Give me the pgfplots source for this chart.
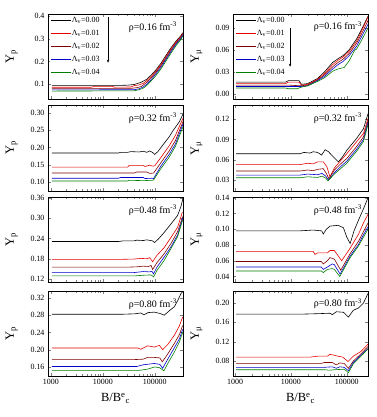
\documentclass[border=0pt]{standalone}
\usepackage{pgfplots}
\pgfplotsset{compat=1.18}
\usepackage{fontspec}
\setmainfont{Liberation Serif}
\usetikzlibrary{arrows.meta}
\definecolor{myred}{RGB}{230,0,0}
\definecolor{mydred}{RGB}{128,0,0}
\definecolor{myblue}{RGB}{0,0,205}
\definecolor{mygreen}{RGB}{0,128,0}
\pgfplotsset{
  scale only axis, width=135bp,
  tick label style={font=\fontsize{8}{8}\selectfont},
  every axis y label/.style={at={(axis description cs:-0.27,0.5)}, rotate=90, anchor=center, font=\fontsize{12.5}{12.5}\selectfont},
  every axis x label/.style={at={(axis description cs:0.5,-0.26)}, anchor=center, font=\fontsize{12.5}{12.5}\selectfont},
  yticklabel style={/pgf/number format/fixed, /pgf/number format/fixed zerofill, /pgf/number format/precision=2},
  major tick length=3bp, minor tick length=1.6bp,
  every axis plot/.append style={line width=0.6pt},
  cycle list={{black},{myred},{mydred},{myblue},{mygreen}},
  axis line style={line width=0.6pt},
}
\pgfkeys{/pgf/number format/1000 sep={}, /pgf/number format/assume math mode=true}
\tikzset{rholab/.style={font=\fontsize{10}{10}\selectfont, anchor=north east}}
\newcommand{\rholabel}[1]{ρ=#1 fm\textsuperscript{-3}}
\begin{document}
\begin{tikzpicture}
\path[use as bounding box] (0,0) rectangle (377bp,417bp);
% ---------- row 1 ----------
\begin{axis}[xmode=log, xtick={1000,10000,100000}, xmin=880, xmax=3.5e5, xticklabels={}, at={(48bp,318bp)}, anchor=south west, height=85bp,
  ymin=0.035, ymax=0.41, ytick={0.1,0.2,0.3,0.4},
  yticklabel style={/pgf/number format/precision=1},
  ylabel={Y\textsubscript{p}},
  legend style={at={(0.01,0.985)}, anchor=north west, draw=none, fill=white,
    font=\fontsize{8}{8}\selectfont, row sep=4.6bp, inner sep=1bp, nodes={inner sep=0.8bp}},
  legend cell align=left,
  legend image code/.code={\draw[#1] (0bp,0bp) -- (20bp,0bp);}]
\addplot coordinates {(1050,0.095)(20000,0.095)(30000,0.096)(40000,0.099)(54000,0.108)(70000,0.122)(85000,0.140)(105000,0.163)(132000,0.193)(165000,0.228)(204000,0.260)(260000,0.292)(318000,0.314)(345000,0.327)};
\addplot coordinates {(1050,0.087)(6000,0.087)(7000,0.091)(15000,0.091)(17000,0.087)(35000,0.088)(40000,0.094)(50000,0.097)(60000,0.104)(70000,0.116)(85000,0.134)(105000,0.158)(132000,0.188)(165000,0.222)(204000,0.255)(260000,0.288)(318000,0.310)(345000,0.324)};
\addplot coordinates {(1050,0.082)(35000,0.082)(45000,0.085)(55000,0.090)(70000,0.108)(85000,0.128)(105000,0.152)(132000,0.182)(165000,0.216)(204000,0.249)(260000,0.283)(318000,0.306)(345000,0.320)};
\addplot coordinates {(1050,0.075)(40000,0.076)(50000,0.080)(60000,0.088)(70000,0.100)(85000,0.120)(105000,0.145)(132000,0.175)(165000,0.210)(204000,0.243)(260000,0.278)(318000,0.302)(345000,0.316)};
\addplot coordinates {(1050,0.070)(40000,0.071)(50000,0.076)(60000,0.083)(70000,0.094)(85000,0.114)(105000,0.138)(132000,0.168)(165000,0.203)(204000,0.236)(260000,0.272)(318000,0.297)(345000,0.312)};
\legend{Λ\textsubscript{v}=0.00,Λ\textsubscript{v}=0.01,Λ\textsubscript{v}=0.02,Λ\textsubscript{v}=0.03,Λ\textsubscript{v}=0.04}
\draw[-{Stealth[length=3bp,width=2.5bp]}, line width=0.5pt] (axis cs:12600,0.395) -- (axis cs:12600,0.195);
\node[rholab] at (rel axis cs:0.98,0.95) {\rholabel{0.16}};
\end{axis}
\begin{axis}[xmode=log, xtick={1000,10000,100000}, xmin=920, xmax=2.4e5, xticklabels={}, at={(233bp,318bp)}, anchor=south west, height=85bp,
  ymin=-0.007, ymax=0.109, ytick={0,0.03,0.06,0.09},
  ylabel={Y\textsubscript{μ}},
  legend style={at={(0.01,0.985)}, anchor=north west, draw=none, fill=white,
    font=\fontsize{8}{8}\selectfont, row sep=4.6bp, inner sep=1bp, nodes={inner sep=0.8bp}},
  legend cell align=left,
  legend image code/.code={\draw[#1] (0bp,0bp) -- (20bp,0bp);}]
\addplot coordinates {(1050,0.016)(8000,0.016)(9000,0.018)(14000,0.018)(15500,0.013)(20000,0.014)(30000,0.021)(40000,0.030)(56000,0.043)(70000,0.048)(85000,0.052)(110000,0.060)(150000,0.075)(190000,0.090)(240000,0.106)};
\addplot coordinates {(1050,0.014)(8000,0.014)(9000,0.016)(14000,0.016)(15500,0.012)(20000,0.013)(30000,0.020)(40000,0.028)(56000,0.040)(70000,0.046)(85000,0.050)(110000,0.058)(150000,0.072)(190000,0.088)(240000,0.105)};
\addplot coordinates {(1050,0.012)(9000,0.012)(15000,0.011)(20000,0.012)(30000,0.019)(40000,0.026)(56000,0.037)(70000,0.043)(85000,0.047)(110000,0.055)(150000,0.069)(190000,0.084)(240000,0.100)};
\addplot coordinates {(1050,0.010)(9000,0.010)(15000,0.010)(20000,0.011)(30000,0.018)(40000,0.024)(56000,0.034)(70000,0.040)(85000,0.044)(110000,0.052)(150000,0.065)(190000,0.080)(240000,0.095)};
\addplot coordinates {(1050,0.008)(8000,0.008)(9000,0.007)(13000,0.007)(15000,0.009)(20000,0.011)(30000,0.017)(40000,0.022)(56000,0.031)(70000,0.034)(90000,0.036)(110000,0.045)(140000,0.060)(150000,0.061)(190000,0.075)(240000,0.090)};
\legend{Λ\textsubscript{v}=0.00,Λ\textsubscript{v}=0.01,Λ\textsubscript{v}=0.02,Λ\textsubscript{v}=0.03,Λ\textsubscript{v}=0.04}
\draw[-{Stealth[length=3bp,width=2.5bp]}, line width=0.5pt] (axis cs:9670,0.090) -- (axis cs:9670,0.037);
\node[rholab] at (rel axis cs:0.98,0.95) {\rholabel{0.16}};
\end{axis}
% ---------- row 2 ----------
\begin{axis}[xmode=log, xtick={1000,10000,100000}, xmin=880, xmax=3.5e5, xticklabels={}, at={(48bp,226bp)}, anchor=south west, height=86bp,
  ymin=0.074, ymax=0.323, ytick={0.10,0.15,0.20,0.25,0.30},
  ylabel={Y\textsubscript{p}}]
\addplot coordinates {(1050,0.184)(20000,0.184)(22000,0.186)(30000,0.186)(35000,0.188)(50000,0.187)(60000,0.189)(70000,0.186)(80000,0.190)(90000,0.186)(100000,0.180)(115000,0.188)(135000,0.202)(190000,0.231)(230000,0.251)(300000,0.275)(350000,0.297)};
\addplot coordinates {(1050,0.143)(30000,0.143)(32000,0.148)(60000,0.148)(65000,0.145)(80000,0.149)(90000,0.146)(100000,0.147)(130000,0.170)(190000,0.205)(250000,0.235)(350000,0.285)};
\addplot coordinates {(1050,0.126)(40000,0.126)(45000,0.129)(70000,0.129)(80000,0.125)(95000,0.126)(130000,0.155)(190000,0.190)(250000,0.220)(350000,0.275)};
\addplot coordinates {(1050,0.111)(20000,0.111)(22000,0.113)(60000,0.113)(65000,0.110)(90000,0.111)(95000,0.110)(130000,0.145)(190000,0.180)(250000,0.210)(350000,0.268)};
\addplot coordinates {(1050,0.103)(30000,0.103)(32000,0.105)(60000,0.104)(90000,0.105)(95000,0.106)(130000,0.138)(190000,0.172)(250000,0.203)(350000,0.260)};
\node[rholab] at (rel axis cs:0.98,0.95) {\rholabel{0.32}};
\end{axis}
\begin{axis}[xmode=log, xtick={1000,10000,100000}, xmin=920, xmax=2.4e5, xticklabels={}, at={(233bp,226bp)}, anchor=south west, height=86bp,
  ymin=0.014, ymax=0.141, ytick={0.03,0.06,0.09,0.12},
  ylabel={Y\textsubscript{μ}}]
\addplot coordinates {(1050,0.069)(14600,0.069)(17000,0.071)(22000,0.070)(25000,0.072)(30000,0.071)(35500,0.067)(41000,0.075)(47000,0.072)(55000,0.066)(71000,0.057)(85000,0.065)(100000,0.074)(151000,0.092)(199000,0.106)(240000,0.128)};
\addplot coordinates {(1050,0.053)(14600,0.053)(20000,0.055)(25000,0.054)(30000,0.057)(38000,0.057)(44000,0.050)(50000,0.035)(60000,0.048)(80000,0.060)(100000,0.069)(151000,0.087)(199000,0.099)(240000,0.121)};
\addplot coordinates {(1050,0.0435)(14600,0.0435)(20000,0.045)(25000,0.044)(30000,0.046)(38000,0.047)(43000,0.040)(48000,0.032)(60000,0.045)(80000,0.055)(100000,0.062)(151000,0.080)(199000,0.094)(240000,0.118)};
\addplot coordinates {(1050,0.0375)(14600,0.0375)(20000,0.039)(30000,0.038)(36000,0.040)(42000,0.036)(47000,0.030)(60000,0.041)(80000,0.051)(100000,0.058)(151000,0.076)(199000,0.090)(240000,0.115)};
\addplot coordinates {(1050,0.0335)(14600,0.0335)(20000,0.035)(30000,0.034)(36000,0.036)(42000,0.033)(46000,0.029)(60000,0.039)(80000,0.048)(100000,0.055)(151000,0.073)(199000,0.087)(240000,0.112)};
\node[rholab] at (rel axis cs:0.98,0.95) {\rholabel{0.32}};
\end{axis}
% ---------- row 3 ----------
\begin{axis}[xmode=log, xtick={1000,10000,100000}, xmin=880, xmax=3.5e5, xticklabels={}, at={(48bp,135bp)}, anchor=south west, height=85bp,
  ymin=0.111, ymax=0.363, ytick={0.12,0.18,0.24,0.30,0.36},
  ylabel={Y\textsubscript{p}}]
\addplot coordinates {(1050,0.231)(20000,0.231)(25000,0.233)(40000,0.233)(45000,0.235)(60000,0.234)(70000,0.236)(90000,0.233)(100000,0.228)(120000,0.240)(152000,0.258)(205000,0.283)(275000,0.308)(320000,0.335)(350000,0.360)};
\addplot coordinates {(1050,0.178)(20000,0.178)(40000,0.179)(55000,0.181)(70000,0.180)(80000,0.183)(91000,0.171)(110000,0.190)(152000,0.213)(205000,0.243)(275000,0.273)(340000,0.318)};
\addplot coordinates {(1050,0.155)(30000,0.155)(45000,0.156)(60000,0.158)(75000,0.157)(85000,0.160)(91000,0.148)(110000,0.168)(152000,0.195)(205000,0.225)(275000,0.260)(345000,0.305)};
\addplot coordinates {(1050,0.139)(40000,0.139)(60000,0.142)(80000,0.141)(88000,0.143)(95000,0.135)(110000,0.155)(152000,0.185)(205000,0.215)(275000,0.250)(345000,0.300)};
\addplot coordinates {(1050,0.129)(40000,0.129)(60000,0.131)(85000,0.132)(95000,0.126)(110000,0.145)(152000,0.175)(205000,0.210)(275000,0.245)(345000,0.295)};
\node[rholab] at (rel axis cs:0.98,0.95) {\rholabel{0.48}};
\end{axis}
\begin{axis}[xmode=log, xtick={1000,10000,100000}, xmin=920, xmax=2.4e5, xticklabels={}, at={(233bp,135bp)}, anchor=south west, height=85bp,
  ymin=0.033, ymax=0.141, ytick={0.04,0.06,0.08,0.10,0.12,0.14},
  ylabel={Y\textsubscript{μ}}]
\addplot coordinates {(1050,0.098)(14600,0.098)(25000,0.099)(35500,0.098)(38000,0.094)(43000,0.100)(50000,0.104)(70000,0.105)(87000,0.102)(100000,0.090)(115000,0.082)(135000,0.098)(163000,0.112)(199000,0.126)(240000,0.140)};
\addplot coordinates {(1050,0.072)(25000,0.072)(27000,0.068)(30000,0.070)(45000,0.070)(50000,0.073)(60000,0.073)(81000,0.060)(115000,0.076)(163000,0.094)(199000,0.108)(240000,0.119)};
\addplot coordinates {(1050,0.059)(35000,0.059)(38000,0.056)(45000,0.060)(50000,0.064)(60000,0.062)(78000,0.048)(115000,0.069)(163000,0.085)(199000,0.097)(240000,0.108)};
\addplot coordinates {(1050,0.052)(35000,0.052)(38000,0.049)(45000,0.052)(55000,0.056)(60000,0.055)(76000,0.043)(115000,0.066)(163000,0.081)(199000,0.093)(240000,0.103)};
\addplot coordinates {(1050,0.047)(35000,0.047)(38000,0.045)(45000,0.049)(55000,0.050)(60000,0.049)(75000,0.040)(115000,0.064)(163000,0.079)(199000,0.090)(240000,0.100)};
\node[rholab] at (rel axis cs:0.98,0.95) {\rholabel{0.48}};
\end{axis}
% ---------- row 4 ----------
\begin{axis}[xmode=log, xtick={1000,10000,100000}, xmin=880, xmax=3.5e5, xticklabels={1000,10000,100000}, at={(48bp,41bp)}, anchor=south west, height=85bp,
  ymin=0.139, ymax=0.336, ytick={0.16,0.20,0.24,0.28,0.32},
  ylabel={Y\textsubscript{p}}, xlabel={B/B\textsuperscript{e}\textsubscript{c}}]
\addplot coordinates {(1050,0.282)(22000,0.282)(40000,0.283)(54000,0.285)(62000,0.281)(75000,0.286)(98000,0.287)(125000,0.284)(152000,0.280)(190000,0.290)(240000,0.300)(280000,0.315)(320000,0.330)(350000,0.335)};
\addplot coordinates {(1050,0.204)(47000,0.204)(54000,0.201)(73000,0.209)(98000,0.206)(123000,0.210)(142000,0.200)(178000,0.212)(240000,0.234)(298000,0.255)(345000,0.276)};
\addplot coordinates {(1050,0.177)(40000,0.177)(60000,0.178)(73000,0.182)(100000,0.182)(125000,0.181)(140000,0.172)(178000,0.190)(240000,0.215)(298000,0.235)(345000,0.256)};
\addplot coordinates {(1050,0.161)(45000,0.161)(60000,0.165)(98000,0.168)(125000,0.166)(142000,0.157)(178000,0.178)(240000,0.205)(298000,0.225)(345000,0.247)};
\addplot coordinates {(1050,0.152)(50000,0.152)(73000,0.155)(100000,0.160)(125000,0.158)(150000,0.151)(178000,0.168)(240000,0.195)(298000,0.218)(345000,0.240)};
\node[rholab] at (rel axis cs:0.98,0.95) {\rholabel{0.80}};
\end{axis}
\begin{axis}[xmode=log, xtick={1000,10000,100000}, xmin=920, xmax=2.4e5, xticklabels={1000,10000,100000}, at={(233bp,41bp)}, anchor=south west, height=85bp,
  ymin=0.049, ymax=0.225, ytick={0.08,0.12,0.16,0.20},
  ylabel={Y\textsubscript{μ}}, xlabel={B/B\textsuperscript{e}\textsubscript{c}}]
\addplot coordinates {(1050,0.177)(14600,0.177)(30000,0.178)(50000,0.179)(55000,0.176)(65000,0.182)(87000,0.181)(107000,0.171)(131000,0.185)(163000,0.190)(199000,0.200)(240000,0.220)};
\addplot coordinates {(1050,0.088)(22000,0.088)(30000,0.090)(45000,0.090)(50000,0.094)(70000,0.090)(85000,0.088)(105000,0.079)(131000,0.090)(180000,0.100)(240000,0.115)};
\addplot coordinates {(1050,0.075)(35000,0.075)(40000,0.077)(55000,0.077)(65000,0.072)(75000,0.076)(90000,0.075)(107000,0.065)(131000,0.080)(180000,0.095)(240000,0.110)};
\addplot coordinates {(1050,0.067)(40000,0.067)(55000,0.068)(65000,0.065)(75000,0.068)(90000,0.067)(107000,0.060)(131000,0.077)(180000,0.092)(240000,0.106)};
\addplot coordinates {(1050,0.062)(40000,0.062)(50000,0.061)(60000,0.062)(90000,0.063)(107000,0.056)(131000,0.074)(180000,0.090)(240000,0.105)};
\node[rholab] at (rel axis cs:0.98,0.95) {\rholabel{0.80}};
\end{axis}
\end{tikzpicture}
\end{document}
